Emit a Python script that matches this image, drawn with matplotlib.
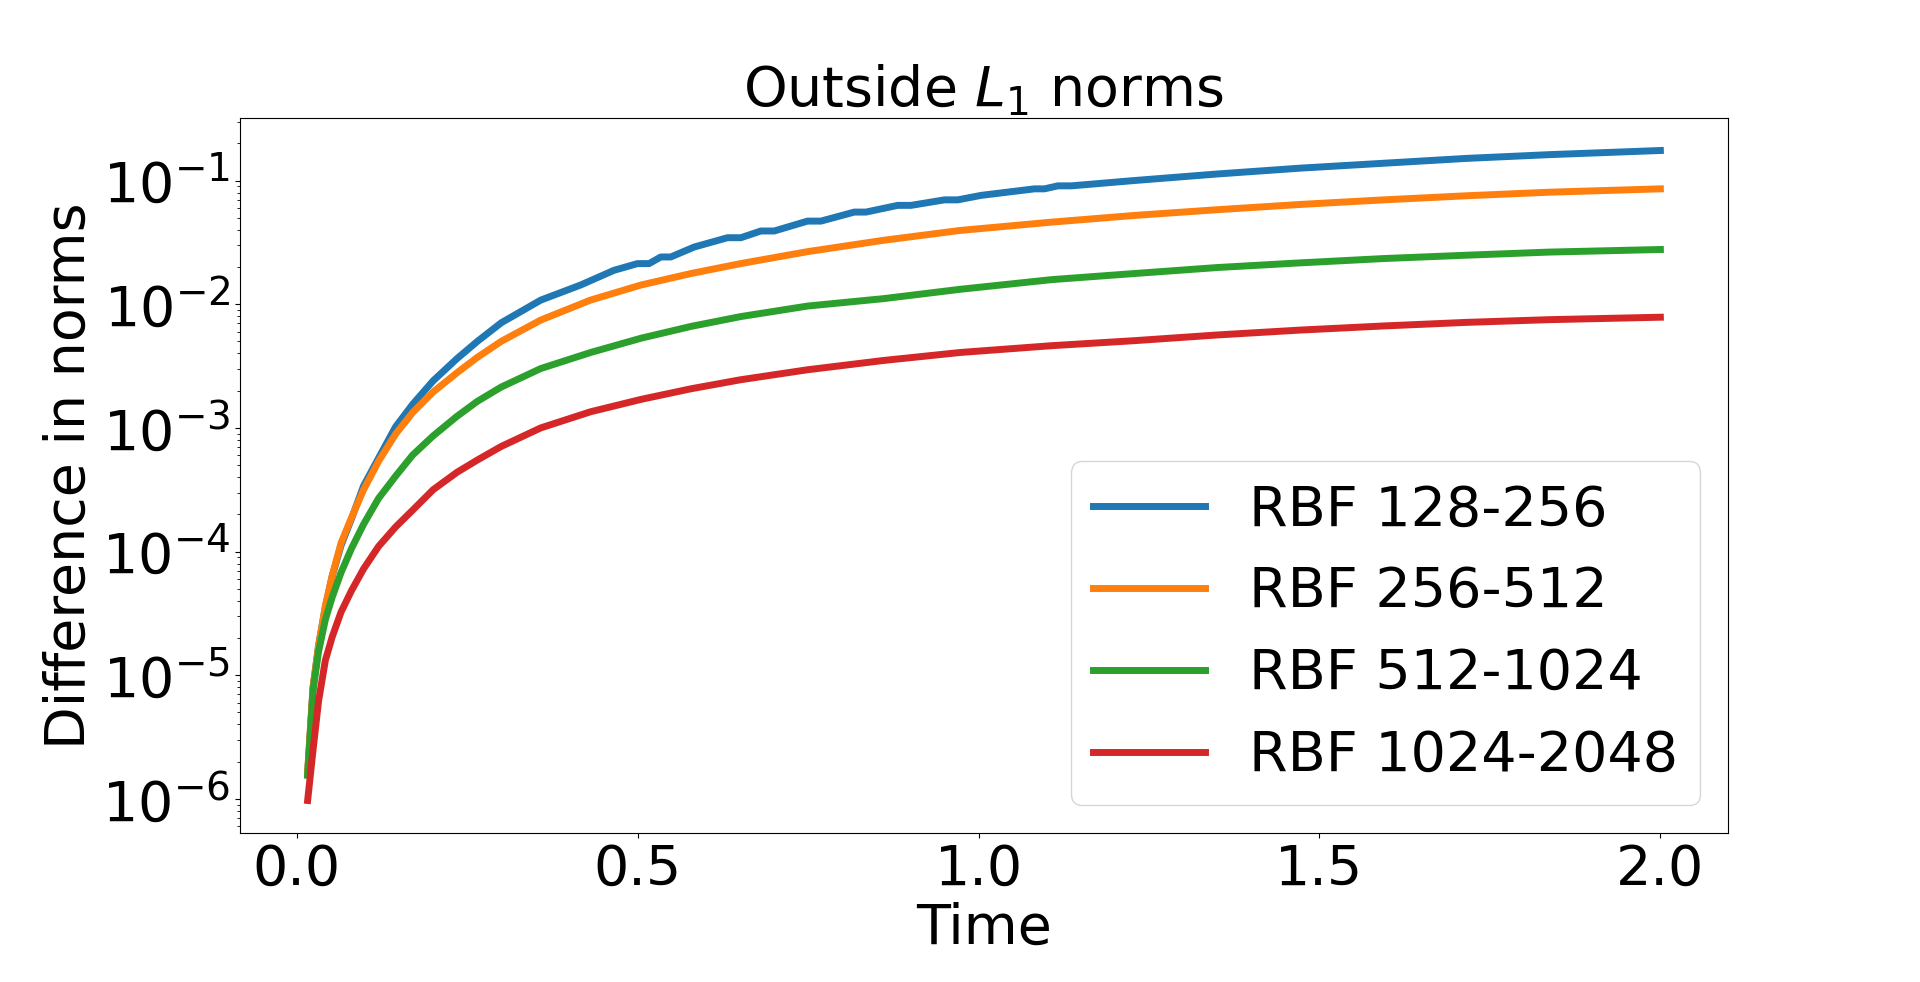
import matplotlib
matplotlib.use("Agg")
import matplotlib.pyplot as plt

# Time samples
time = [0.016, 0.024, 0.032, 0.042, 0.052, 0.065, 0.08, 0.098, 0.12, 0.145,
        0.17, 0.2, 0.235, 0.265, 0.3, 0.358, 0.431, 0.505, 0.578, 0.651,
        0.749, 0.861, 0.973, 1.107, 1.228, 1.35, 1.472, 1.594, 1.715, 1.837, 2.0]

# The 128-256 curve has small stair steps, so it is read at its own times
time_128_256 = [0.016, 0.024, 0.032, 0.042, 0.052, 0.065, 0.08, 0.098, 0.12, 0.145,
                0.17, 0.2, 0.235, 0.265, 0.3, 0.358, 0.4164, 0.4653, 0.4997, 0.5168,
                0.5339, 0.5486, 0.5829, 0.6318, 0.6514, 0.6807, 0.7003, 0.7492, 0.7688,
                0.8178, 0.8349, 0.8814, 0.901, 0.95, 0.9695, 1.0038, 1.0821, 1.0968,
                1.1163, 1.1359, 1.228, 1.35, 1.472, 1.594, 1.715, 1.837, 2.0]

rbf_128_256 = [1.58e-6, 7.94e-6, 1.74e-5, 3.55e-5, 6.31e-5, 1.12e-4, 1.82e-4, 3.39e-4,
               5.69e-4, 1.02e-3, 1.55e-3, 2.40e-3, 3.63e-3, 5.01e-3, 7.08e-3, 1.08e-2,
               1.43e-2, 1.88e-2, 2.13e-2, 2.13e-2, 2.41e-2, 2.41e-2, 2.90e-2, 3.45e-2,
               3.45e-2, 3.91e-2, 3.91e-2, 4.70e-2, 4.70e-2, 5.56e-2, 5.56e-2, 6.30e-2,
               6.30e-2, 6.98e-2, 6.98e-2, 7.59e-2, 8.57e-2, 8.57e-2, 9.06e-2, 9.06e-2,
               0.100, 0.113, 0.126, 0.138, 0.151, 0.162, 0.175]

rbf_256_512 = [1.66e-6, 8.13e-6, 1.70e-5, 3.63e-5, 6.38e-5, 1.17e-4, 1.86e-4, 3.16e-4,
               5.37e-4, 8.91e-4, 1.33e-3, 1.95e-3, 2.79e-3, 3.72e-3, 5.01e-3, 7.45e-3,
               1.08e-2, 1.43e-2, 1.77e-2, 2.13e-2, 2.66e-2, 3.29e-2, 3.95e-2, 4.61e-2,
               5.22e-2, 5.81e-2, 6.41e-2, 6.98e-2, 7.53e-2, 8.05e-2, 8.57e-2]

rbf_512_1024 = [1.55e-6, 7.59e-6, 1.55e-5, 2.82e-5, 4.27e-5, 6.76e-5, 1.05e-4, 1.66e-4,
                2.69e-4, 4.07e-4, 6.03e-4, 8.61e-4, 1.24e-3, 1.64e-3, 2.14e-3, 3.02e-3,
                4.07e-3, 5.31e-3, 6.61e-3, 7.94e-3, 9.66e-3, 1.11e-2, 1.32e-2, 1.58e-2,
                1.77e-2, 1.98e-2, 2.16e-2, 2.34e-2, 2.49e-2, 2.64e-2, 2.77e-2]

rbf_1024_2048 = [9.70e-7, 2.51e-6, 6.17e-6, 1.32e-5, 2.04e-5, 3.24e-5, 4.79e-5, 7.24e-5,
                 1.10e-4, 1.58e-4, 2.16e-4, 3.16e-4, 4.37e-4, 5.50e-4, 7.08e-4, 1.0e-3,
                 1.35e-3, 1.70e-3, 2.07e-3, 2.45e-3, 2.95e-3, 3.51e-3, 4.07e-3, 4.62e-3,
                 5.07e-3, 5.64e-3, 6.18e-3, 6.67e-3, 7.13e-3, 7.50e-3, 7.85e-3]

labels = ["RBF 128-256", "RBF 256-512", "RBF 512-1024", "RBF 1024-2048"]
times = [time_128_256, time, time, time]
series = [rbf_128_256, rbf_256_512, rbf_512_1024, rbf_1024_2048]
colors = ["#1f77b4", "#ff7f0e", "#2ca02c", "#d62728"]

FS = 40
fig = plt.figure(figsize=(19.2, 9.82), dpi=100)
ax = fig.add_axes([0.125, 1 - 833 / 982, 0.775, (833 - 118) / 982])

for t, y, lab, c in zip(times, series, labels, colors):
    ax.plot(t, y, color=c, lw=5, label=lab)

ax.set_yscale("log")
ax.set_xticks([0.0, 0.5, 1.0, 1.5, 2.0])
ax.tick_params(axis="both", which="major", labelsize=FS)
ax.set_xlabel("Time", fontsize=FS)
ax.set_ylabel("Difference in norms", fontsize=FS)
ax.set_title("Outside $L_1$ norms", fontsize=FS, pad=4)
ax.legend(loc="lower right", fontsize=FS)

fig.savefig("out.png", dpi=100)
